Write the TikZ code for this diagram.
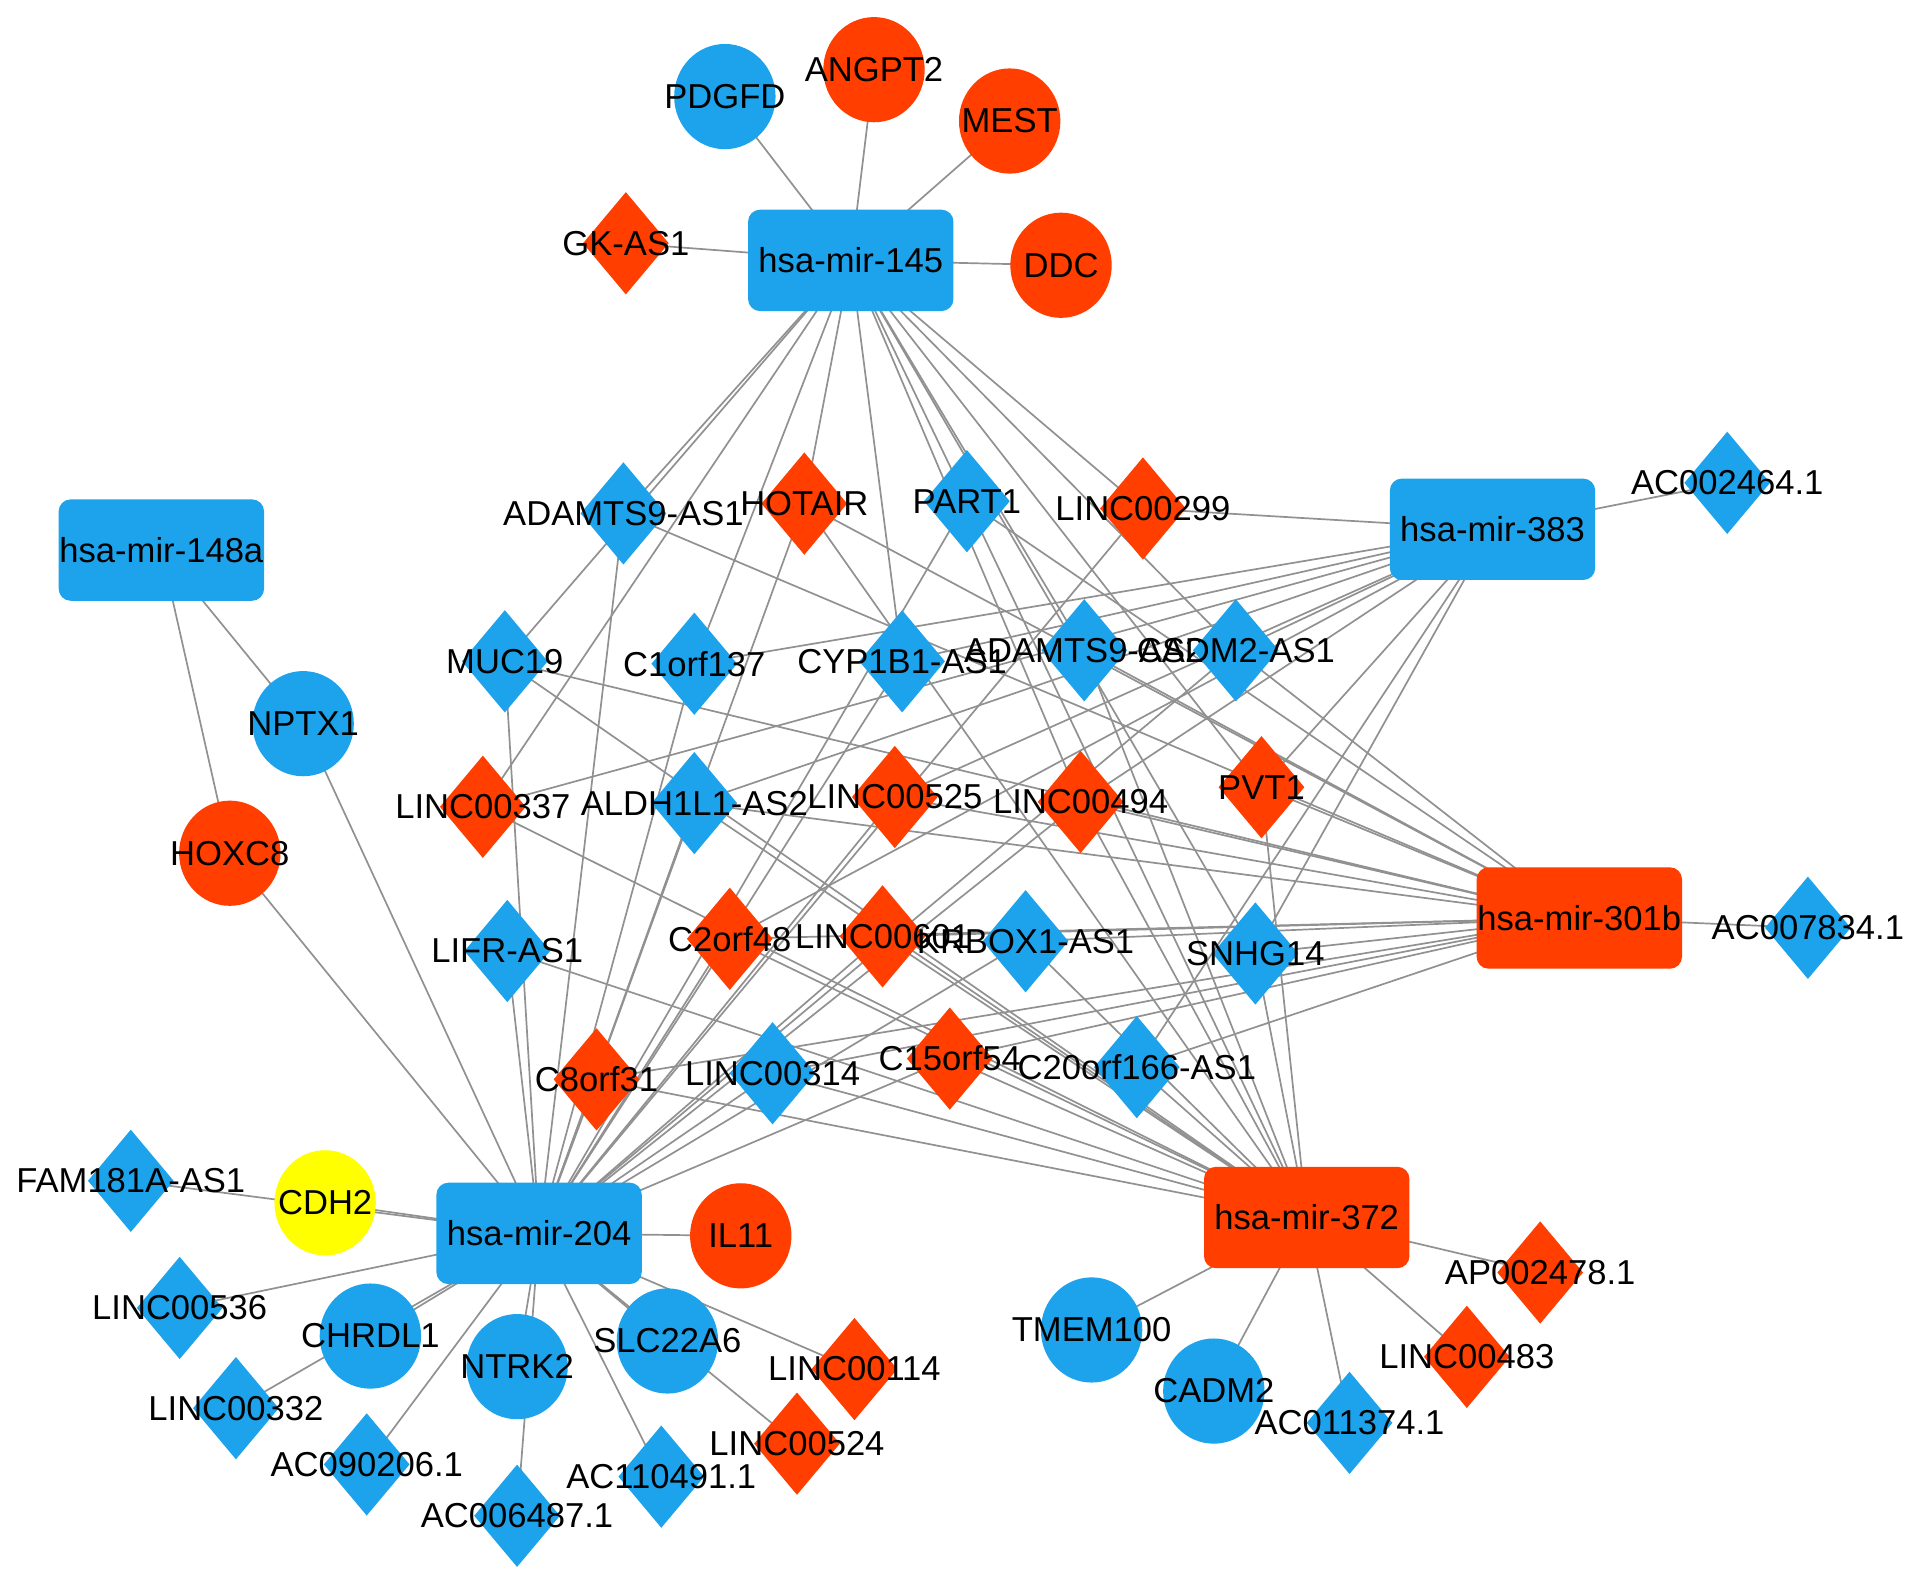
\documentclass[tikz,border=0pt]{standalone}
\usepackage{fontspec}
\setmainfont{Liberation Sans}
\usetikzlibrary{shapes.geometric,backgrounds}
\definecolor{nblue}{RGB}{28,163,236}
\definecolor{nred}{RGB}{255,62,0}
\definecolor{nyel}{RGB}{255,255,0}
\definecolor{edgec}{RGB}{145,145,145}
\begin{document}
\begin{tikzpicture}[x=0.6112pt,y=-0.6112pt,
  lbl/.style={font=\fontsize{17.3}{20}\selectfont, text=black, inner sep=0pt},
  mir/.style={rectangle, rounded corners=6pt, minimum width=102.7pt, minimum height=50.7pt, inner sep=0pt, font=\fontsize{17.3}{20}\selectfont},
  circ/.style={ellipse, minimum width=50.7pt, minimum height=52.6pt, inner sep=0pt},
  dia/.style={diamond, minimum width=43pt, minimum height=51.3pt, inner sep=0pt},
  B/.style={fill=nblue}, R/.style={fill=nred}, Y/.style={fill=nyel},
  edge/.style={draw=edgec, line width=0.85pt}]
\useasboundingbox (0,0) rectangle (1565,1294);
% miRNA hubs
\node[mir,B] (m145) at (696,213) {hsa-mir-145};
\node[mir,B] (m383) at (1221,433) {hsa-mir-383};
\node[mir,B] (m148) at (132,450) {hsa-mir-148a};
\node[mir,R] (m301) at (1292,751) {hsa-mir-301b};
\node[mir,B] (m204) at (441,1009) {hsa-mir-204};
\node[mir,R] (m372) at (1069,996) {hsa-mir-372};
% circles
\node[circ,B,label={[lbl]center:PDGFD}] (PDGFD) at (593,79) {};
\node[circ,R,label={[lbl]center:ANGPT2}] (ANGPT2) at (715,57) {};
\node[circ,R,label={[lbl]center:MEST}] (MEST) at (826,99) {};
\node[circ,R,label={[lbl]center:DDC}] (DDC) at (868,217) {};
\node[circ,B,label={[lbl]center:NPTX1}] (NPTX1) at (248,592) {};
\node[circ,R,label={[lbl]center:HOXC8}] (HOXC8) at (188,698) {};
\node[circ,Y,label={[lbl]center:CDH2}] (CDH2) at (266,984) {};
\node[circ,R,label={[lbl]center:IL11}] (IL11) at (606,1011) {};
\node[circ,B,label={[lbl]center:CHRDL1}] (CHRDL1) at (303,1093) {};
\node[circ,B,label={[lbl]center:NTRK2}] (NTRK2) at (423,1118) {};
\node[circ,B,label={[lbl]center:SLC22A6}] (SLC22A6) at (546,1097) {};
\node[circ,B,label={[lbl]center:TMEM100}] (TMEM100) at (893,1088) {};
\node[circ,B,label={[lbl]center:CADM2}] (CADM2) at (993,1138) {};
% diamonds
\node[dia,R,label={[lbl]center:GK-AS1}] (GKAS1) at (512,199) {};
\node[dia,B,label={[lbl]center:ADAMTS9-AS1}] (ADAMTSnineAS1) at (510,420) {};
\node[dia,R,label={[lbl]center:HOTAIR}] (HOTAIR) at (658,412) {};
\node[dia,B,label={[lbl]center:PART1}] (PART1) at (791,410) {};
\node[dia,R,label={[lbl]center:LINC00299}] (LINCcclxxxxix) at (935,416) {};
\node[dia,B,label={[lbl]center:AC002464.1}] (ACtwofour) at (1413,395) {};
\node[dia,B,label={[lbl]center:MUC19}] (MUC19) at (413,541) {};
\node[dia,B,label={[lbl]center:C1orf137}] (Corfonethree) at (568,543) {};
\node[dia,B,label={[lbl]center:CYP1B1-AS1}] (CYP) at (738,541) {};
\node[dia,B,label={[lbl]center:ADAMTS9-AS2}] (ADAMTSnineAS2) at (887,532) {};
\node[dia,B,label={[lbl]center:CADM2-AS1}] (CADMAS) at (1011,532) {};
\node[dia,R,label={[lbl]center:LINC00337}] (LINCthreethreeseven) at (395,660) {};
\node[dia,B,label={[lbl]center:ALDH1L1-AS2}] (ALDH) at (568,657) {};
\node[dia,R,label={[lbl]center:LINC00525}] (LINCfivetwofive) at (732,652) {};
\node[dia,R,label={[lbl]center:LINC00494}] (LINCfourninefour) at (884,656) {};
\node[dia,R,label={[lbl]center:PVT1}] (PVT1) at (1032,644) {};
\node[dia,B,label={[lbl]center:AC007834.1}] (ACseven) at (1479,759) {};
\node[dia,B,label={[lbl]center:LIFR-AS1}] (LIFR) at (415,778) {};
\node[dia,R,label={[lbl]center:C2orf48}] (Ctwo) at (597,768) {};
\node[dia,R,label={[lbl]center:LINC00601}] (LINCsixzeroone) at (722,766) {};
\node[dia,B,label={[lbl]center:KRBOX1-AS1}] (KRBOX) at (839,770) {};
\node[dia,B,label={[lbl]center:SNHG14}] (SNHG) at (1027,780) {};
\node[dia,R,label={[lbl]center:C8orf31}] (Ceight) at (488,883) {};
\node[dia,B,label={[lbl]center:LINC00314}] (LINCthreeonefour) at (632,878) {};
\node[dia,R,label={[lbl]center:C15orf54}] (Cfifteen) at (777,866) {};
\node[dia,B,label={[lbl]center:C20orf166-AS1}] (Ctwenty) at (930,873) {};
\node[dia,B,label={[lbl]center:FAM181A-AS1}] (FAM) at (107,966) {};
\node[dia,B,label={[lbl]center:LINC00536}] (LINCfivethreesix) at (147,1070) {};
\node[dia,R,label={[lbl]center:LINC00114}] (LINConeonefour) at (699,1120) {};
\node[dia,B,label={[lbl]center:LINC00332}] (LINCthreethreetwo) at (193,1152) {};
\node[dia,B,label={[lbl]center:AC090206.1}] (ACninezero) at (300,1198) {};
\node[dia,B,label={[lbl]center:AC006487.1}] (ACsixfour) at (423,1240) {};
\node[dia,B,label={[lbl]center:AC110491.1}] (AConeone) at (541,1208) {};
\node[dia,R,label={[lbl]center:LINC00524}] (LINCfivetwofour) at (652,1181) {};
\node[dia,R,label={[lbl]center:AP002478.1}] (APtwo) at (1260,1041) {};
\node[dia,R,label={[lbl]center:LINC00483}] (LINCfoureightthree) at (1200,1110) {};
\node[dia,B,label={[lbl]center:AC011374.1}] (ACzeroone) at (1104,1164) {};
\begin{pgfonlayer}{background}
\fill[white] (0,0) rectangle (1565,1294);
\foreach \t in {PDGFD,ANGPT2,MEST,DDC,GKAS1,ADAMTSnineAS1,MUC19,LINCthreethreeseven,Corfonethree,HOTAIR,CYP,PART1,LINCfourninefour,SNHG,ADAMTSnineAS2,PVT1,CADMAS,LINCcclxxxxix}
  {\draw[edge] (m145.center) -- (\t.center);}
\foreach \t in {NPTX1,HOXC8}
  {\draw[edge] (m148.center) -- (\t.center);}
\foreach \t in {ACtwofour,LINCcclxxxxix,Corfonethree,CYP,LINCthreethreeseven,LINCfivetwofive,ALDH,CADMAS,LINCfourninefour,Ctwo,PVT1,SNHG,Ctwenty}
  {\draw[edge] (m383.center) -- (\t.center);}
\foreach \t in {ACseven,ADAMTSnineAS1,MUC19,HOTAIR,PART1,ADAMTSnineAS2,CADMAS,ALDH,LINCfivetwofive,LINCfourninefour,PVT1,KRBOX,SNHG,Ctwo,LINCsixzeroone,LINCthreeonefour,Cfifteen,Ctwenty,Ceight}
  {\draw[edge] (m301.center) -- (\t.center);}
\foreach \t in {TMEM100,CADM2,ACzeroone,LINCfoureightthree,APtwo,PVT1,SNHG,ADAMTSnineAS2,PART1,HOTAIR,LINCfourninefour,Ctwenty,KRBOX,LINCsixzeroone,Cfifteen,LINCthreeonefour,Ceight,LIFR,LINCthreethreeseven,ALDH,MUC19,Ctwo}
  {\draw[edge] (m372.center) -- (\t.center);}
\foreach \t in {CDH2,FAM,IL11,LINCfivethreesix,CHRDL1,LINCthreethreetwo,NTRK2,ACsixfour,ACninezero,SLC22A6,LINCfivetwofour,AConeone,LINConeonefour,HOXC8,NPTX1,MUC19,LIFR,Ceight,LINCthreeonefour,Ctwo,Corfonethree,HOTAIR,ADAMTSnineAS1,ALDH,CYP,LINCfivetwofive,PART1,LINCsixzeroone,KRBOX,Cfifteen,LINCfourninefour,LINCcclxxxxix,CADMAS}
  {\draw[edge] (m204.center) -- (\t.center);}
\end{pgfonlayer}
\end{tikzpicture}
\end{document}
